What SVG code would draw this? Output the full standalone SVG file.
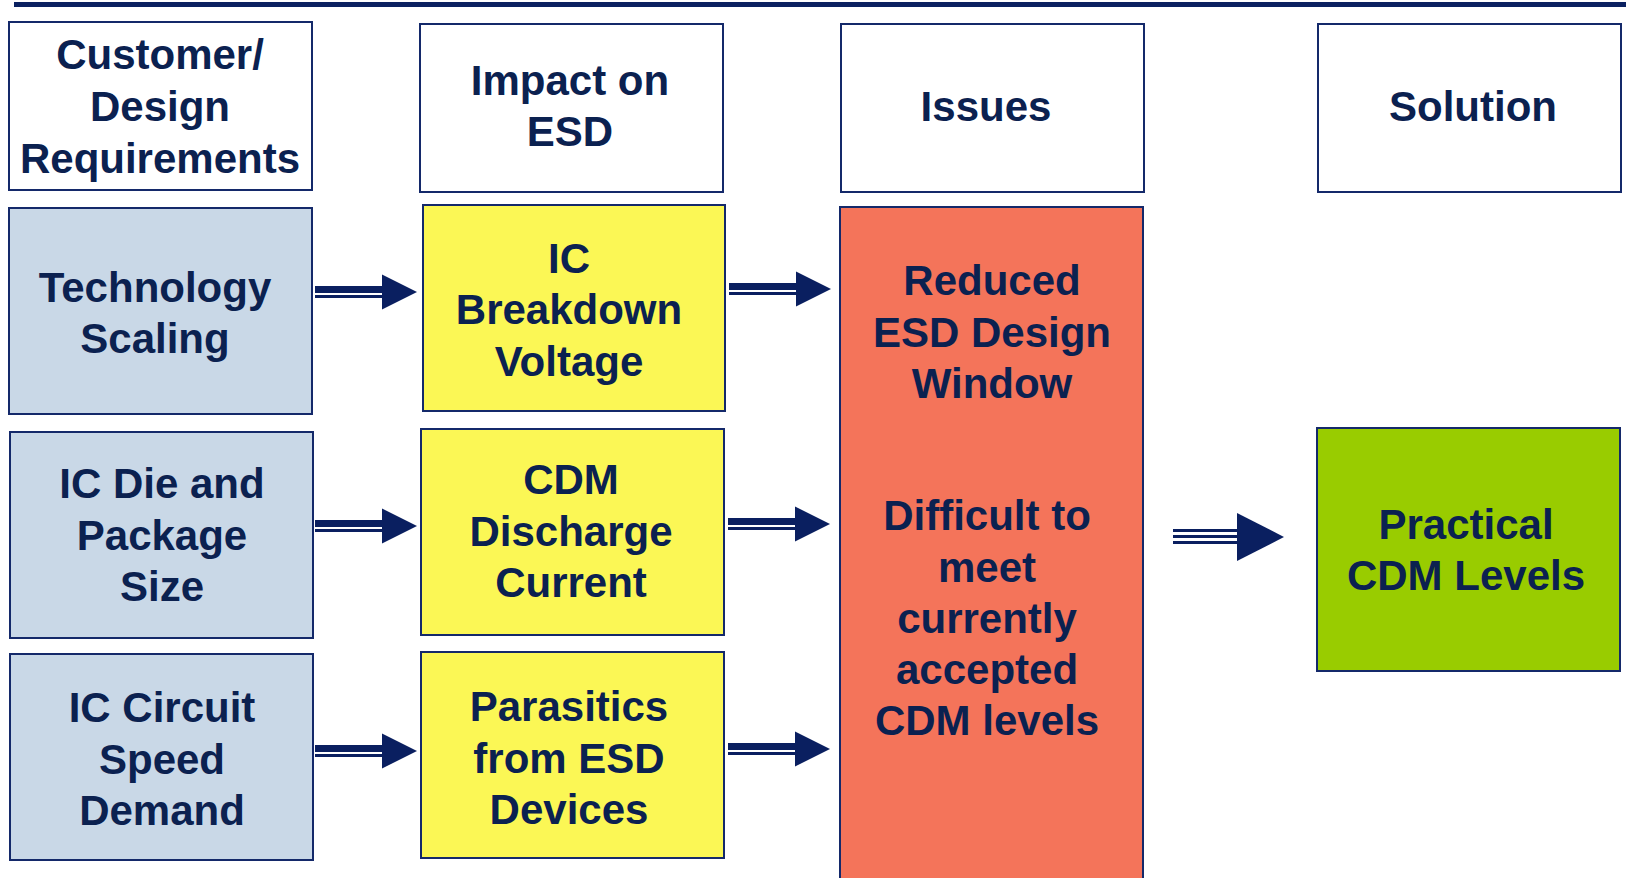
<svg xmlns="http://www.w3.org/2000/svg" width="1626" height="878" viewBox="0 0 1626 878">
<defs>
<style>
.box{stroke:#14296a;stroke-width:2}
.hdr{fill:#ffffff}
.blue{fill:#c9d8e7}
.yel{fill:#fbf755}
.red{fill:#f4745a}
.grn{fill:#99cc00}
text{font-family:"Liberation Sans",Arial,sans-serif;font-weight:bold;font-size:42px;fill:#0b2150;text-anchor:middle}
.arw{fill:#0a1f60}
</style>
<g id="arr2">
<rect x="-102" y="-6" width="68" height="7" class="arw"/>
<rect x="-102" y="3" width="68" height="3" class="arw"/>
<polygon points="-35,-17.5 0,0 -35,17.5" class="arw"/>
</g>
</defs>
<rect width="1626" height="878" fill="#ffffff"/>
<rect x="14" y="2" width="1612" height="5" fill="#0b2161"/>

<g id="h1"><rect class="box hdr" x="9" y="22" width="303" height="168"/>
<text x="160" y="69">Customer/</text><text x="160" y="121">Design</text><text x="160" y="173">Requirements</text></g>
<g id="h2"><rect class="box hdr" x="420" y="24" width="303" height="168"/>
<text x="570" y="95">Impact on</text><text x="570" y="146">ESD</text></g>
<g id="h3"><rect class="box hdr" x="841" y="24" width="303" height="168"/>
<text x="986" y="121">Issues</text></g>
<g id="h4"><rect class="box hdr" x="1318" y="24" width="303" height="168"/>
<text x="1473" y="121">Solution</text></g>

<g id="tech"><rect class="box blue" x="9" y="208" width="303" height="206"/>
<text x="155" y="302">Technology</text><text x="155" y="353">Scaling</text></g>
<g id="die"><rect class="box blue" x="10" y="432" width="303" height="206"/>
<text x="162" y="498">IC Die and</text><text x="162" y="550">Package</text><text x="162" y="601">Size</text></g>
<g id="speed"><rect class="box blue" x="10" y="654" width="303" height="206"/>
<text x="162" y="722">IC Circuit</text><text x="162" y="774">Speed</text><text x="162" y="825">Demand</text></g>

<g id="bv"><rect class="box yel" x="423" y="205" width="302" height="206"/>
<text x="569" y="273">IC</text><text x="569" y="324">Breakdown</text><text x="569" y="376">Voltage</text></g>
<g id="cdm"><rect class="box yel" x="421" y="429" width="303" height="206"/>
<text x="571" y="494">CDM</text><text x="571" y="546">Discharge</text><text x="571" y="597">Current</text></g>
<g id="par"><rect class="box yel" x="421" y="652" width="303" height="206"/>
<text x="569" y="721">Parasitics</text><text x="569" y="773">from ESD</text><text x="569" y="824">Devices</text></g>

<g id="issues"><rect class="box red" x="840" y="207" width="303" height="690"/>
<text x="992" y="295">Reduced</text><text x="992" y="347">ESD Design</text><text x="992" y="398">Window</text>
<text x="987" y="530">Difficult to</text><text x="987" y="582">meet</text><text x="987" y="633">currently</text><text x="987" y="684">accepted</text><text x="987" y="735">CDM levels</text></g>

<g id="sol"><rect class="box grn" x="1317" y="428" width="303" height="243"/>
<text x="1466" y="539">Practical</text><text x="1466" y="590">CDM Levels</text></g>

<g id="connectors">
<use href="#arr2" x="417" y="292"/>
<use href="#arr2" x="831" y="289"/>
<use href="#arr2" x="417" y="526"/>
<use href="#arr2" x="830" y="524"/>
<use href="#arr2" x="417" y="751"/>
<use href="#arr2" x="830" y="749"/>
<g id="arr3">
<rect x="1173" y="529" width="64" height="3" class="arw"/>
<rect x="1173" y="535" width="64" height="3" class="arw"/>
<rect x="1173" y="541" width="64" height="3" class="arw"/>
<polygon points="1237,513 1284,537 1237,561" class="arw"/>
</g>
</g>
</svg>
